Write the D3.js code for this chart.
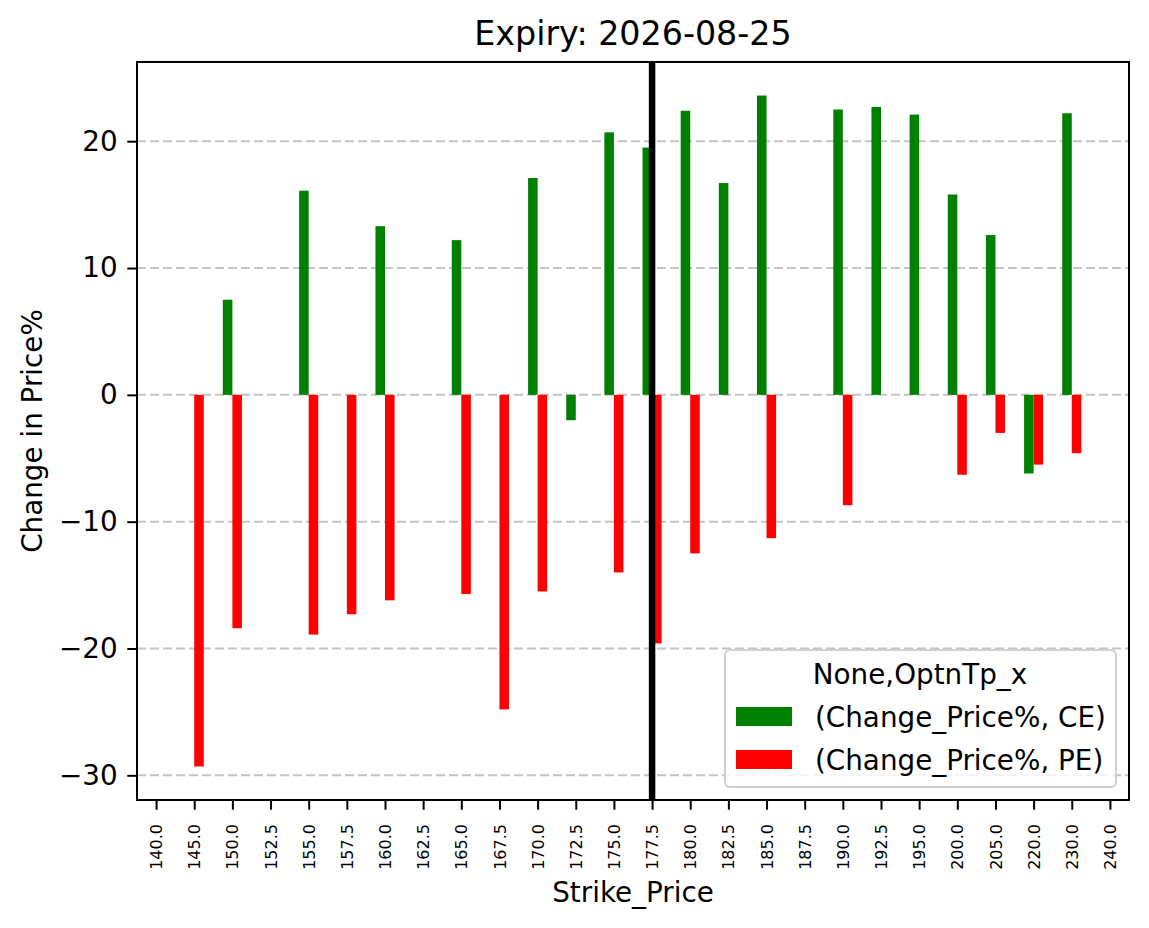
<!DOCTYPE html>
<html>
<head>
<meta charset="utf-8">
<script src="https://cdn.jsdelivr.net/npm/d3@7"></script>
<style>
  body { margin: 0; background: #fff; }
  svg text { font-family: "DejaVu Sans", sans-serif; fill: #000; }
</style>
</head>
<body>
<div id="chart"></div>
<script>

// strikes on the x axis
var strikes = ["140.0", "145.0", "150.0", "152.5", "155.0", "157.5", "160.0", "162.5", "165.0", "167.5",
    "170.0", "172.5", "175.0", "177.5", "180.0", "182.5", "185.0", "187.5", "190.0", "192.5",
    "195.0", "200.0", "205.0", "220.0", "230.0", "240.0"]

// (Change_Price%, CE)
var ceValues = [null, null, 7.5, null, 16.1, null, 13.3, null, 12.2, null,
    17.1, -2.0, 20.7, 19.5, 22.4, 16.7, 23.6, null, 22.5, 22.7,
    22.1, 15.8, 12.6, -6.2, 22.2, null]

// (Change_Price%, PE)
var peValues = [null, -29.3, -18.4, null, -18.9, -17.3, -16.2, null, -15.7, -24.8,
    -15.5, null, -14.0, -19.6, -12.5, null, -11.3, null, -8.7, null,
    null, -6.3, -3.0, -5.5, -4.6, null]

var yTicks = [-30, -20, -10, 0, 10, 20]

var spotStrike = "177.5"

var width = 1149, height = 928
var margin = {top: 62, right: 20, bottom: 128, left: 137}
var plotW = width - margin.left - margin.right
var plotH = height - margin.top - margin.bottom

var svg = d3.select("#chart").append("svg")
    .attr("width", width)
    .attr("height", height)

var g = svg.append("g")
    .attr("transform", "translate(" + margin.left + "," + margin.top + ")")

// category index -> pixel, like pandas bar plot xlim (-0.5, n-0.5)
var x = d3.scaleLinear()
    .domain([-0.5, strikes.length - 0.5])
    .range([0, plotW])

var allVals = ceValues.concat(peValues).filter(function(v) { return v !== null })
var yMin = d3.min(allVals), yMax = d3.max(allVals)
var pad = (yMax - yMin) * 0.05

var y = d3.scaleLinear()
    .domain([yMin - pad, yMax + pad])
    .range([plotH, 0])

// grid
g.append("g")
    .selectAll("line")
    .data(yTicks)
    .enter()
    .append("line")
    .attr("x1", 0)
    .attr("x2", plotW)
    .attr("y1", function(d) { return y(d) })
    .attr("y2", function(d) { return y(d) })
    .style("stroke", "#c4c4c4")
    .style("stroke-width", 2)
    .style("stroke-dasharray", "9,4")

var barW = x(0.25) - x(0)

var series = [
    {name: "(Change_Price%, CE)", values: ceValues, color: "green", offset: -0.25},
    {name: "(Change_Price%, PE)", values: peValues, color: "red", offset: 0}
]

series.forEach(function(s) {
    g.append("g")
        .selectAll("rect")
        .data(s.values.map(function(v, i) { return {i: i, v: v} }).filter(function(d) { return d.v !== null }))
        .enter()
        .append("rect")
        .attr("x", function(d) { return x(d.i + s.offset) })
        .attr("width", barW)
        .attr("y", function(d) { return y(Math.max(0, d.v)) })
        .attr("height", function(d) { return Math.abs(y(d.v) - y(0)) })
        .style("fill", s.color)
})

// spot line
var spotIdx = strikes.indexOf(spotStrike)
g.append("line")
    .attr("x1", x(spotIdx))
    .attr("x2", x(spotIdx))
    .attr("y1", 0)
    .attr("y2", plotH)
    .style("stroke", "#000")
    .style("stroke-width", 6.5)

// frame
g.append("rect")
    .attr("width", plotW)
    .attr("height", plotH)
    .style("fill", "none")
    .style("stroke", "#000")
    .style("stroke-width", 2)

// x axis
var xAxis = g.append("g")
    .attr("transform", "translate(0," + plotH + ")")
    .call(d3.axisBottom(x)
        .tickValues(d3.range(strikes.length))
        .tickFormat(function(i) { return strikes[i] })
        .tickSize(9.7)
        .tickPadding(6))

xAxis.select(".domain").remove()
xAxis.selectAll(".tick line").style("stroke", "#000").style("stroke-width", 2)
xAxis.selectAll(".tick text")
    .attr("transform", "rotate(-90)")
    .attr("x", -24)
    .attr("y", 0)
    .attr("dy", "0.35em")
    .style("text-anchor", "end")
    .style("font-size", "16px")

// y axis
var yAxis = g.append("g")
    .call(d3.axisLeft(y)
        .tickValues(yTicks)
        .tickSize(9.7)
        .tickPadding(9.7))

yAxis.select(".domain").remove()
yAxis.selectAll(".tick line").style("stroke", "#000").style("stroke-width", 2)
yAxis.selectAll(".tick text").style("font-size", "27.8px")

// title and axis labels
svg.append("text")
    .attr("x", margin.left + plotW / 2)
    .attr("y", 45)
    .style("text-anchor", "middle")
    .style("font-size", "33.3px")
    .text("Expiry: 2026-08-25")

svg.append("text")
    .attr("x", margin.left + plotW / 2)
    .attr("y", 902)
    .style("text-anchor", "middle")
    .style("font-size", "27.8px")
    .text("Strike_Price")

svg.append("text")
    .attr("transform", "translate(42," + (margin.top + plotH / 2) + ") rotate(-90)")
    .style("text-anchor", "middle")
    .style("font-size", "27.8px")
    .text("Change in Price%")

// legend
var legend = svg.append("g")
    .attr("transform", "translate(725,650)")

legend.append("rect")
    .attr("width", 391)
    .attr("height", 137)
    .attr("rx", 5)
    .style("fill", "rgba(255,255,255,0.8)")
    .style("stroke", "#d0d0d0")
    .style("stroke-width", 2)

legend.append("text")
    .attr("x", 195)
    .attr("y", 34)
    .style("text-anchor", "middle")
    .style("font-size", "27.8px")
    .text("None,OptnTp_x")

series.forEach(function(s, k) {
    legend.append("rect")
        .attr("x", 11)
        .attr("y", 57 + k * 43)
        .attr("width", 56)
        .attr("height", 19)
        .style("fill", s.color)
    legend.append("text")
        .attr("x", 90)
        .attr("y", 77 + k * 43)
        .style("font-size", "27.8px")
        .text(s.name)
})

</script>
</body>
</html>
